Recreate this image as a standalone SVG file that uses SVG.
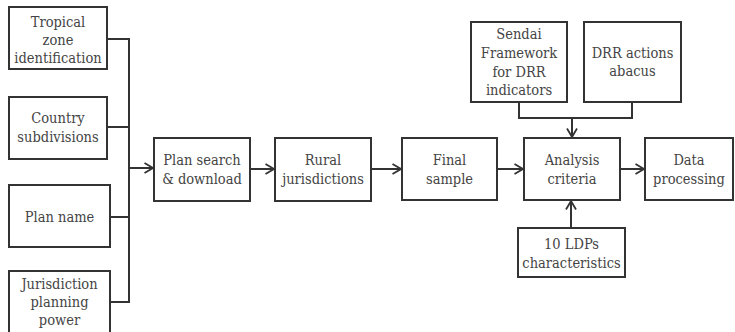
<svg xmlns="http://www.w3.org/2000/svg" width="735" height="332" viewBox="0 0 735 332">
<defs>
<style>
.box{fill:#fff;stroke:#333;stroke-width:2}
.t{font-family:"DejaVu Serif Condensed","DejaVu Serif",serif;font-size:14.5px;fill:#444;text-anchor:middle}
.ln{fill:none;stroke:#333;stroke-width:2}
</style>
<marker id="ah" viewBox="0 0 10 12" refX="9.5" refY="6" markerWidth="10" markerHeight="12" markerUnits="userSpaceOnUse" orient="auto">
<path d="M1,1 L9.5,6 L1,11" fill="none" stroke="#333" stroke-width="1.8"/>
</marker>
</defs>
<rect width="735" height="332" fill="#fff"/>
<g id="connectors">
<polyline class="ln" points="107,39 129,39 129,302 110,302"/>
<line class="ln" x1="107" y1="127" x2="129" y2="127"/>
<line class="ln" x1="110" y1="217" x2="129" y2="217"/>
<line class="ln" x1="129" y1="168" x2="153" y2="168" marker-end="url(#ah)"/>
<line class="ln" x1="250" y1="169" x2="274" y2="169" marker-end="url(#ah)"/>
<line class="ln" x1="371" y1="169" x2="401" y2="169" marker-end="url(#ah)"/>
<line class="ln" x1="497" y1="169" x2="523" y2="169" marker-end="url(#ah)"/>
<line class="ln" x1="620" y1="169" x2="644" y2="169" marker-end="url(#ah)"/>
<polyline class="ln" points="519,102 519,118 632,118 632,102"/>
<line class="ln" x1="572" y1="118" x2="572" y2="137" marker-end="url(#ah)"/>
<line class="ln" x1="571" y1="228" x2="571" y2="201" marker-end="url(#ah)"/>
</g>
<g id="tropical">
<rect class="box" x="9" y="7" width="98" height="62"/>
<text class="t" x="58" y="27">Tropical</text>
<text class="t" x="58" y="45">zone</text>
<text class="t" x="58" y="63">identification</text>
</g>
<g id="country">
<rect class="box" x="9" y="97" width="98" height="62"/>
<text class="t" x="58" y="123">Country</text>
<text class="t" x="58" y="142">subdivisions</text>
</g>
<g id="planname">
<rect class="box" x="9" y="185" width="101" height="62"/>
<text class="t" x="59.500" y="222">Plan name</text>
</g>
<g id="jurisdiction">
<rect class="box" x="9" y="271" width="101" height="70"/>
<text class="t" x="59.500" y="289">Jurisdiction</text>
<text class="t" x="59.500" y="307">planning</text>
<text class="t" x="59.500" y="325">power</text>
</g>
<g id="plansearch">
<rect class="box" x="154" y="138" width="96" height="63"/>
<text class="t" x="202" y="165">Plan search</text>
<text class="t" x="202" y="184">&amp; download</text>
</g>
<g id="rural">
<rect class="box" x="275" y="138" width="96" height="63"/>
<text class="t" x="323" y="165">Rural</text>
<text class="t" x="323" y="184">jurisdictions</text>
</g>
<g id="final">
<rect class="box" x="402" y="138" width="95" height="62"/>
<text class="t" x="449.500" y="165">Final</text>
<text class="t" x="449.500" y="184">sample</text>
</g>
<g id="analysis">
<rect class="box" x="524" y="138" width="96" height="62"/>
<text class="t" x="572" y="165">Analysis</text>
<text class="t" x="572" y="184">criteria</text>
</g>
<g id="data">
<rect class="box" x="645" y="138" width="88" height="62"/>
<text class="t" x="689" y="165">Data</text>
<text class="t" x="689" y="184">processing</text>
</g>
<g id="sendai">
<rect class="box" x="471" y="22" width="96" height="80"/>
<text class="t" x="519" y="39">Sendai</text>
<text class="t" x="519" y="58">Framework</text>
<text class="t" x="519" y="77">for DRR</text>
<text class="t" x="519" y="95">indicators</text>
</g>
<g id="drr">
<rect class="box" x="584" y="22" width="97" height="80"/>
<text class="t" x="632.500" y="58">DRR actions</text>
<text class="t" x="632.500" y="76">abacus</text>
</g>
<g id="ldps">
<rect class="box" x="518" y="228" width="107" height="49"/>
<text class="t" x="571.500" y="249">10 LDPs</text>
<text class="t" x="571.500" y="268">characteristics</text>
</g>
</svg>
